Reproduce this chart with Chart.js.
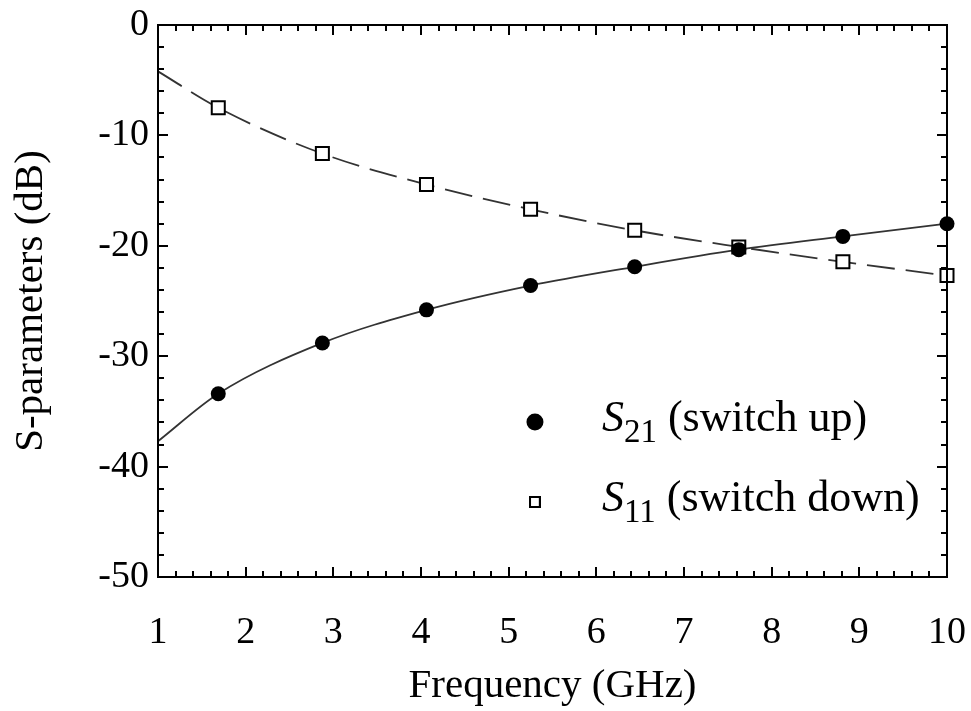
<!DOCTYPE html>
<html><head><meta charset="utf-8">
<script src="https://cdn.jsdelivr.net/npm/chart.js@4/dist/chart.umd.min.js"></script>
<style>html,body{margin:0;padding:0;background:#fff;}#wrap{width:971px;height:711px;}</style>
</head><body><div id="wrap"><canvas id="c" width="971" height="711"></canvas></div>
<script>
// ---- data ----
const markerFreq = [1.6875, 2.875, 4.0625, 5.25, 6.4375, 7.625, 8.8125, 10.0];
const s21Markers = [-33.4, -28.8, -25.8, -23.6, -21.9, -20.35, -19.15, -18.0];
const s11Markers = [-7.5, -11.65, -14.45, -16.7, -18.6, -20.1, -21.45, -22.7];
const curveFreq = [1.0, 1.6875, 2.875, 4.0625, 5.25, 6.4375, 7.625, 8.8125, 10.0];
const s21Curve = [-37.7, -33.4, -28.8, -25.8, -23.6, -21.9, -20.35, -19.15, -18.0];
const s11Curve = [-4.2, -7.5, -11.65, -14.45, -16.7, -18.6, -20.1, -21.45, -22.7];
const xTickLabels = ['1','2','3','4','5','6','7','8','9','10'];
const yTickLabels = ['0','-10','-20','-30','-40','-50'];
const legendEntries = [
  {main: 'S', sub: '21', rest: ' (switch up)', style: 'circle'},
  {main: 'S', sub: '11', rest: ' (switch down)', style: 'rect'}
];
const legendAnchor = {freq: 5.3, db: [-35.95, -43.2]};

const FONT = "'Liberation Serif', 'Times New Roman', serif";
const toXY = (xs, ys) => xs.map((x, i) => ({x: x, y: ys[i]}));
const noPad = s => { s.paddingLeft = 0; s.paddingRight = 0; s.paddingTop = 0; s.paddingBottom = 0; };

const framePlugin = {
  id: 'frame',
  afterDatasetsDraw(chart) {
    const ctx = chart.ctx, a = chart.chartArea;
    const xs = chart.scales.x, ys = chart.scales.y;
    ctx.save();
    ctx.strokeStyle = '#000';
    ctx.lineWidth = 2;
    // inward ticks on all four sides
    for (let k = 0; k <= 45; k++) {
      const v = 1 + k * 0.2;
      const major = k % 5 === 0;
      const len = major ? 10 : 6;
      const px = Math.round(xs.getPixelForValue(v));
      ctx.beginPath();
      ctx.moveTo(px, a.bottom); ctx.lineTo(px, a.bottom - len);
      ctx.moveTo(px, a.top); ctx.lineTo(px, a.top + len);
      ctx.stroke();
    }
    for (let k = 0; k <= 25; k++) {
      const v = -k * 2;
      const major = k % 5 === 0;
      const len = major ? 10 : 6;
      const py = Math.round(ys.getPixelForValue(v));
      ctx.beginPath();
      ctx.moveTo(a.left, py); ctx.lineTo(a.left + len, py);
      ctx.moveTo(a.right, py); ctx.lineTo(a.right - len, py);
      ctx.stroke();
    }
    ctx.strokeRect(a.left, a.top, a.right - a.left, a.bottom - a.top);
    // legend
    legendEntries.forEach((e, i) => {
      const mx = xs.getPixelForValue(legendAnchor.freq);
      const my = ys.getPixelForValue(legendAnchor.db[i]);
      ctx.lineWidth = 2;
      ctx.strokeStyle = '#000';
      ctx.fillStyle = e.style === 'circle' ? '#000' : '#fff';
      Chart.helpers.drawPoint(ctx, {pointStyle: e.style, radius: e.style === 'circle' ? 7.5 : 7, borderWidth: 2}, mx, my);
      if (e.style === 'rect') { ctx.stroke(); }
      ctx.fillStyle = '#000';
      ctx.textBaseline = 'alphabetic';
      ctx.textAlign = 'left';
      let tx = mx + 67;
      const base = my + 9;
      ctx.font = "italic 44px " + FONT;
      ctx.fillText(e.main, tx, base);
      tx += ctx.measureText(e.main).width;
      ctx.font = "33px " + FONT;
      ctx.fillText(e.sub, tx, base + 11);
      tx += ctx.measureText(e.sub).width;
      ctx.font = "44px " + FONT;
      ctx.fillText(e.rest, tx, base);
    });
    ctx.restore();
  }
};

new Chart(document.getElementById('c'), {
  type: 'scatter',
  data: {
    datasets: [
      {label: 'S21 curve', type: 'line', data: toXY(curveFreq, s21Curve), borderColor: '#333', borderWidth: 1.8,
       pointRadius: 0, cubicInterpolationMode: 'monotone', fill: false, order: 2},
      {label: 'S11 curve', type: 'line', data: toXY(curveFreq, s11Curve), borderColor: '#333', borderWidth: 1.8,
       borderDash: [28, 11], pointRadius: 0, cubicInterpolationMode: 'monotone', fill: false, order: 2},
      {label: 'S21 (switch up)', data: toXY(markerFreq, s21Markers), pointStyle: 'circle', pointRadius: 7.5,
       backgroundColor: '#000', borderColor: '#000', borderWidth: 0, order: 1},
      {label: 'S11 (switch down)', data: toXY(markerFreq, s11Markers), pointStyle: 'rect', pointRadius: 9.2,
       backgroundColor: '#fff', borderColor: '#000', borderWidth: 2, order: 1}
    ]
  },
  options: {
    responsive: false,
    animation: false,
    devicePixelRatio: 1,
    clip: false,
    layout: {padding: {top: 25, right: 24, left: 0, bottom: 0}},
    plugins: {legend: {display: false}, tooltip: {enabled: false}},
    scales: {
      x: {
        type: 'linear', min: 1, max: 10,
        afterFit: s => { s.height = 134; noPad(s); },
        afterBuildTicks: s => { s.ticks = xTickLabels.map(t => ({value: Number(t)})); },
        ticks: {callback: v => String(v), color: '#000', font: {family: FONT, size: 38}, padding: 33, maxRotation: 0, autoSkip: false},
        grid: {display: false, drawTicks: false},
        border: {display: false},
        title: {display: true, text: 'Frequency (GHz)', color: '#000', font: {family: FONT, size: 41}, padding: {bottom: 0}}
      },
      y: {
        type: 'linear', min: -50, max: 0,
        afterFit: s => { s.width = 158; noPad(s); },
        afterBuildTicks: s => { s.ticks = yTickLabels.map(t => ({value: Number(t)})); },
        ticks: {callback: v => String(v), color: '#000', font: {family: FONT, size: 38}, padding: 9, autoSkip: false},
        grid: {display: false, drawTicks: false},
        border: {display: false},
        title: {display: true, text: 'S-parameters (dB)', color: '#000', font: {family: FONT, size: 41}, padding: {top: 7}}
      }
    }
  },
  plugins: [framePlugin]
});
</script></body></html>
